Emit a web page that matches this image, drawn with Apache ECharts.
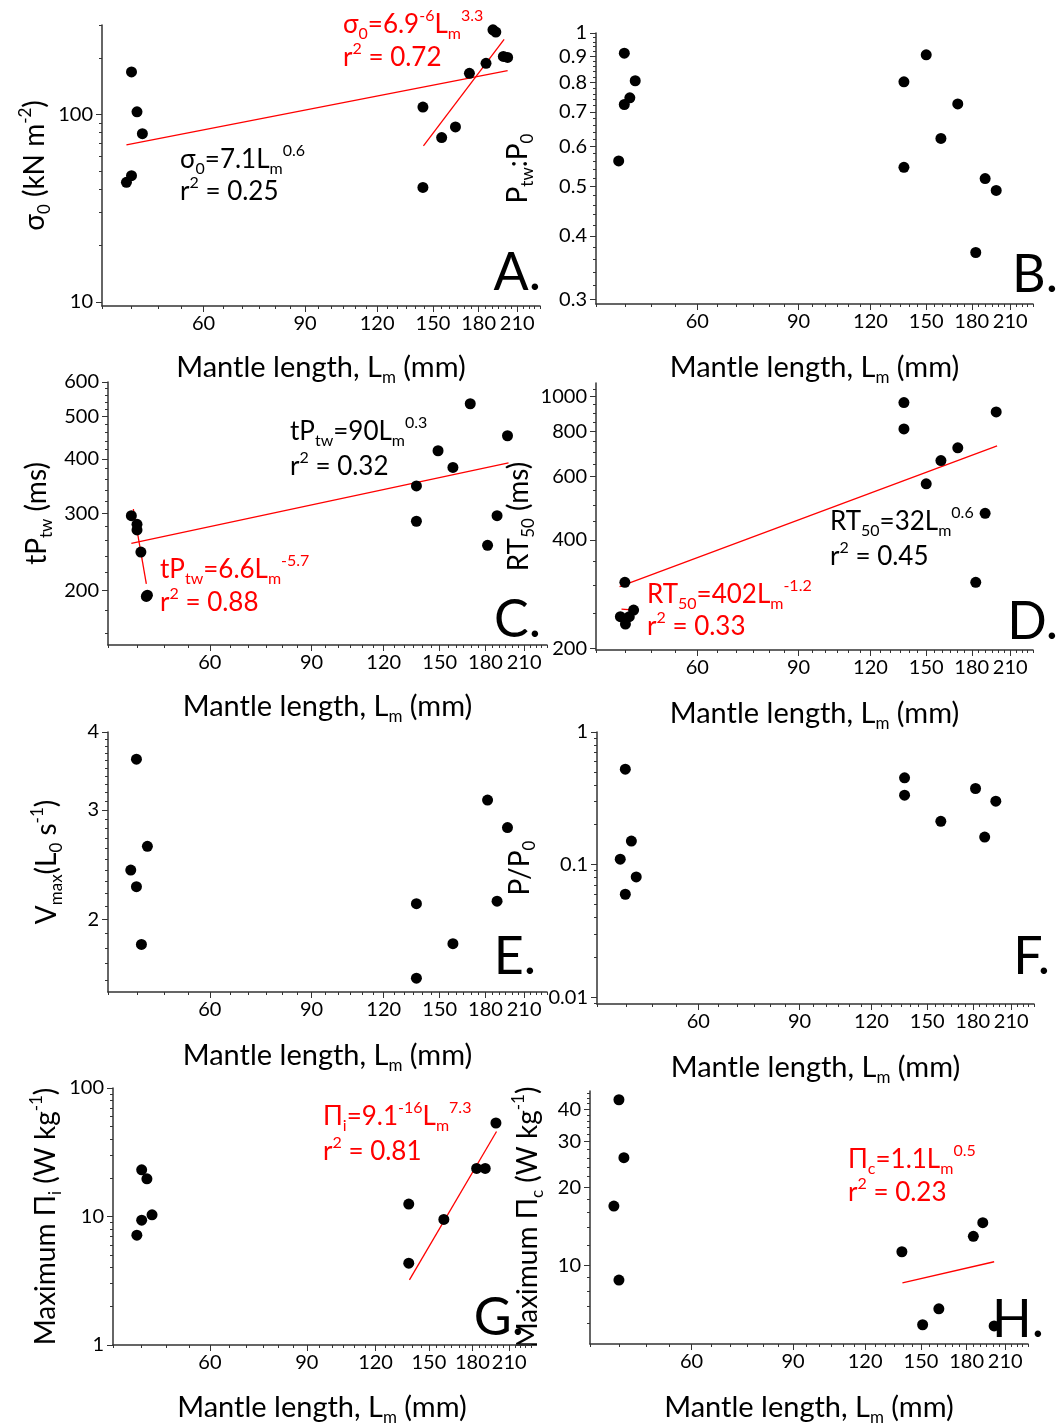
<!DOCTYPE html>
<html>
<head>
<meta charset="utf-8">
<script src="https://cdn.jsdelivr.net/npm/echarts@6/dist/echarts.min.js"></script>
<style>
html, body { margin: 0; background: #fff; }
#chart { width: 1062px; height: 1427px; }
</style>
</head>
<body>
<div id="chart"></div>
<script>
// x axis (mantle length, mm) - log scale
var xMajor = [60, 90, 120, 150, 180, 210]
var xRange = [40, 230]

// A. sigma0 (kN m-2)
var lenA = [44.1, 45.0, 45.0, 46.0, 47.0, 144.1, 144.1, 155.3, 164.1, 173.5, 185.4, 190.6, 192.8, 198.7, 202.1]
var sigmaA = [43.4, 47.1, 168.5, 103.3, 78.9, 109.4, 40.8, 75.2, 85.7, 165.7, 187.4, 282.6, 274.9, 204, 201.5]
var fitA1Len = [44.1, 202.1], fitA1Val = [68.8, 171.3]
var fitA2Len = [144.4, 199.3], fitA2Val = [67.9, 251.2]
var yTicksA = [10, 100]

// B. Ptw:P0
var lenB = [43.8, 44.8, 44.8, 45.8, 46.8, 137.2, 137.2, 150, 159.1, 170.2, 182.9, 189.9, 198.5]
var ratioB = [0.561, 0.913, 0.724, 0.746, 0.806, 0.802, 0.545, 0.906, 0.621, 0.726, 0.371, 0.518, 0.491]
var yTicksB = [0.3, 0.4, 0.5, 0.6, 0.7, 0.8, 0.9, 1]

// C. tPtw (ms)
var lenC = [43.9, 44.9, 44.9, 45.6, 46.6, 46.8, 136.7, 136.7, 149, 158.1, 169.4, 181.5, 188.5, 196.5]
var tptwC = [296.6, 283.4, 275.1, 244.8, 193.8, 195, 347, 288, 417.6, 382.4, 535, 253.7, 296.6, 452]
var fitC1Len = [43.9, 197.3], fitC1Val = [256.2, 391.9]
var fitC2Len = [44.25, 46.6], fitC2Val = [307.2, 207]
var yTicksC = [200, 300, 400, 500, 600]

// D. RT50 (ms)
var lenD = [44.1, 44.9, 45.0, 45.7, 46.5, 137.2, 137.2, 150, 159.1, 170.2, 182.9, 189.9, 198.5]
var rtD = [244.9, 305, 233.7, 244.9, 255.6, 962, 812.8, 572.5, 664, 720.6, 305, 474, 906]
var fitD1Len = [43.96, 199.2], fitD1Val = [296.7, 729]
var fitD2Len = [44.3, 46.8], fitD2Val = [257, 255.4]
var yTicksD = [200, 400, 600, 800, 1000]

// E. Vmax (L0 s-1)
var lenE = [43.8, 44.8, 44.8, 45.7, 46.8, 136.7, 136.7, 158.1, 181.5, 188.5, 196.5]
var vmaxE = [2.401, 3.617, 2.258, 1.824, 2.622, 2.121, 1.61, 1.829, 3.11, 2.14, 2.81]
var yTicksE = [2, 3, 4]

// F. P/P0
var lenF = [43.9, 44.8, 44.8, 45.9, 46.8, 137, 137, 158.4, 182, 188.8, 197.4]
var ppF = [0.110, 0.524, 0.0598, 0.1507, 0.0808, 0.451, 0.334, 0.212, 0.375, 0.1615, 0.301]
var yTicksF = [0.01, 0.1, 1]

// G. maximum Pi_i (W kg-1)
var lenG = [44.2, 45.1, 45.1, 46.1, 47.1, 137.9, 137.9, 159.7, 183.2, 189.9, 198.6]
var piG = [7.15, 23.1, 9.36, 19.66, 10.3, 12.5, 4.33, 9.48, 23.66, 23.66, 53.4]
var fitGLen = [138.3, 199.1], fitGVal = [3.21, 45.9]
var yTicksG = [1, 10, 100]

// H. maximum Pi_c (W kg-1)
var lenH = [44, 44.9, 44.9, 45.8, 139, 151, 161.1, 184.9, 192, 200.9]
var piH = [16.97, 43.5, 8.81, 26.05, 11.32, 5.93, 6.83, 12.97, 14.64, 5.87]
var fitHLen = [139.3, 200.9], fitHVal = [8.6, 10.36]
var yTicksH = [10, 20, 30, 40]

var FONT = 'Lato'
var AX = '#333'

function lg(v) { return Math.log10(v) }
function pts(xs, ys) { return xs.map(function (x, i) { return [lg(x), lg(ys[i])] }) }
function fmt(v) { return String(parseFloat(Math.pow(10, v).toPrecision(3))) }
function range(a, b, step) {
  var out = []
  for (var v = a; v <= b + 1e-9; v += step) out.push(+v.toFixed(4))
  return out
}
function decadeMinor(lo, hi) {
  var out = []
  for (var e = -3; e <= 3; e++) for (var k = 2; k <= 9; k++) {
    var v = k * Math.pow(10, e)
    if (v >= lo && v <= hi) out.push(v)
  }
  return out
}
function minus(list, major) {
  return list.filter(function (v) {
    return !major.some(function (m) { return Math.abs(m - v) < 1e-6 })
  })
}

var xMinor = minus(range(40, 230, 5), xMajor)

function nameStyle(size) {
  return {
    fontSize: size, fontFamily: FONT, color: '#000', lineHeight: 36,
    rich: {
      sub: { fontSize: 17, lineHeight: 14, verticalAlign: 'bottom', fontFamily: FONT, color: '#000' },
      sup: { fontSize: 17, lineHeight: 14, verticalAlign: 'top', fontFamily: FONT, color: '#000' }
    }
  }
}

var grids = [], xAxes = [], yAxes = [], series = [], graphics = []

function addPanel(p) {
  var gi = grids.length
  grids.push({ left: p.box[0], top: p.box[1], width: p.box[2], height: p.box[3] })
  var xi = xAxes.length, yi = yAxes.length
  var lo = lg(p.y[0]), hi = lg(p.y[1])
  var baseX = {
    gridIndex: gi, type: 'value', position: 'bottom', min: lg(xRange[0]), max: lg(xRange[1]),
    splitLine: { show: false }
  }
  var baseY = {
    gridIndex: gi, type: 'value', position: 'left', min: lo, max: hi,
    splitLine: { show: false }
  }
  xAxes.push(Object.assign({}, baseX, {
    name: 'Mantle length, L{sub|m} (mm)', nameLocation: 'middle', nameGap: p.xGap, nameTextStyle: nameStyle(29),
    axisLine: { onZero: false, lineStyle: { color: AX, width: 1.5 } },
    axisTick: { length: 6, customValues: xMajor.map(lg), lineStyle: { color: AX } },
    axisLabel: { customValues: xMajor.map(lg), formatter: fmt, fontSize: 20, fontFamily: FONT, color: '#000', margin: 8 }
  }))
  xAxes.push(Object.assign({}, baseX, {
    axisLine: { show: false, onZero: false },
    axisTick: { length: 3, customValues: xMinor.map(lg), lineStyle: { color: AX } },
    axisLabel: { show: false }
  }))
  var yMinor = p.minor.filter(function (v) { return v >= p.y[0] && v <= p.y[1] })
  yAxes.push(Object.assign({}, baseY, {
    name: p.yName, nameLocation: 'middle', nameGap: p.yGap, nameRotate: 90, nameTextStyle: nameStyle(28),
    axisLine: { onZero: false, lineStyle: { color: AX, width: 1.5 } },
    axisTick: { length: 6, customValues: p.ticks.map(lg), lineStyle: { color: AX } },
    axisLabel: { customValues: p.ticks.map(lg), formatter: fmt, fontSize: 20, fontFamily: FONT, color: '#000', margin: 9 }
  }))
  yAxes.push(Object.assign({}, baseY, {
    axisLine: { show: false, onZero: false },
    axisTick: { length: 3, customValues: minus(yMinor, p.ticks).map(lg), lineStyle: { color: AX } },
    axisLabel: { show: false }
  }))
  series.push({
    type: 'scatter', xAxisIndex: xi, yAxisIndex: yi, data: pts(p.xs, p.ys),
    symbolSize: 11, itemStyle: { color: '#000', opacity: 1 }, z: 3
  })
  ;(p.fits || []).forEach(function (f) {
    series.push({
      type: 'line', xAxisIndex: xi, yAxisIndex: yi, data: pts(f[0], f[1]),
      showSymbol: false, lineStyle: { color: '#ff0000', width: 1.3 }, z: 2
    })
  })
  graphics.push({
    type: 'text', x: p.letter[0], y: p.letter[1],
    style: { text: p.letter[2], fontSize: 52, fontFamily: FONT, fill: '#000', align: 'right', verticalAlign: 'middle' }
  })
}

function note(x, y, text, color) {
  var r = {
    sub: { fontSize: 16, lineHeight: 14, verticalAlign: 'bottom', fontFamily: FONT, fill: color },
    sup: { fontSize: 16, lineHeight: 14, verticalAlign: 'top', fontFamily: FONT, fill: color }
  }
  graphics.push({
    type: 'text', x: x, y: y,
    style: { text: text, fontSize: 26, lineHeight: 34, fontFamily: FONT, fill: color, align: 'left', verticalAlign: 'middle', rich: r }
  })
}

addPanel({ box: [102, 25, 438, 281], y: [9.5, 300], ticks: yTicksA, minor: decadeMinor(9.5, 300),
  xs: lenA, ys: sigmaA, fits: [[fitA1Len, fitA1Val], [fitA2Len, fitA2Val]],
  yName: 'σ{sub|0} (kN m{sup|-2})', yGap: 49, xGap: 44, letter: [541, 273, 'A.'] })
addPanel({ box: [596, 33, 437, 271], y: [0.294, 1], ticks: yTicksB, minor: range(0.3, 1, 0.02),
  xs: lenB, ys: ratioB,
  yName: 'P{sub|tw}:P{sub|0}', yGap: 60, xGap: 46, letter: [1058, 275, 'B.'] })
addPanel({ box: [108, 382, 439, 263], y: [150, 600], ticks: yTicksC, minor: range(160, 600, 20),
  xs: lenC, ys: tptwC, fits: [[fitC1Len, fitC1Val], [fitC2Len, fitC2Val]],
  yName: 'tP{sub|tw} (ms)', yGap: 53, xGap: 44, letter: [541, 620, 'C.'] })
addPanel({ box: [596, 383, 437, 267], y: [198, 1090], ticks: yTicksD, minor: range(200, 1050, 50),
  xs: lenD, ys: rtD, fits: [[fitD1Len, fitD1Val], [fitD2Len, fitD2Val]],
  yName: 'RT{sub|50} (ms)', yGap: 56, xGap: 46, letter: [1058, 622, 'D.'] })
addPanel({ box: [108, 732, 439, 260], y: [1.53, 4], ticks: yTicksE, minor: range(1.6, 4, 0.1),
  xs: lenE, ys: vmaxE,
  yName: 'V{sub|max}(L{sub|0} s{sup|-1})', yGap: 43, xGap: 46, letter: [536, 957, 'E.'] })
addPanel({ box: [597, 732, 437, 272], y: [0.0089, 1], ticks: yTicksF, minor: decadeMinor(0.0089, 1),
  xs: lenF, ys: ppF,
  yName: 'P/P{sub|0}', yGap: 59, xGap: 46, letter: [1050, 957, 'F.'] })
addPanel({ box: [113, 1088, 418, 257], y: [1, 100], ticks: yTicksG, minor: decadeMinor(1, 100),
  xs: lenG, ys: piG, fits: [[fitGLen, fitGVal]],
  yName: 'Maximum Π{sub|i} (W kg{sup|-1})', yGap: 49, xGap: 45, letter: [524, 1318, 'G.'] })
addPanel({ box: [590, 1091, 438, 253], y: [5, 47], ticks: yTicksH,
  minor: [6, 7, 8, 9, 12, 14, 16, 18, 22, 24, 26, 28, 32, 34, 36, 38, 42, 44, 46],
  xs: lenH, ys: piH, fits: [[fitHLen, fitHVal]],
  yName: 'Maximum Π{sub|c} (W kg{sup|-1})', yGap: 44, xGap: 46, letter: [1044, 1320, 'H.'] })

var RED = '#ff0000'
note(343, 25, 'σ{sub|0}=6.9{sup|-6}L{sub|m}{sup|3.3}', RED)
note(343, 58, 'r{sup|2} = 0.72', RED)
note(180, 160, 'σ{sub|0}=7.1L{sub|m}{sup|0.6}', '#000')
note(180, 192, 'r{sup|2} = 0.25', '#000')
note(290, 432, 'tP{sub|tw}=90L{sub|m}{sup|0.3}', '#000')
note(290, 467, 'r{sup|2} = 0.32', '#000')
note(160, 570, 'tP{sub|tw}=6.6L{sub|m}{sup|-5.7}', RED)
note(160, 603, 'r{sup|2} = 0.88', RED)
note(830, 522, 'RT{sub|50}=32L{sub|m}{sup|0.6}', '#000')
note(830, 557, 'r{sup|2} = 0.45', '#000')
note(647, 595, 'RT{sub|50}=402L{sub|m}{sup|-1.2}', RED)
note(647, 627, 'r{sup|2} = 0.33', RED)
note(323, 1117, 'Π{sub|i}=9.1{sup|-16}L{sub|m}{sup|7.3}', RED)
note(323, 1152, 'r{sup|2} = 0.81', RED)
note(848, 1160, 'Π{sub|c}=1.1L{sub|m}{sup|0.5}', RED)
note(848, 1193, 'r{sup|2} = 0.23', RED)

var chart = echarts.init(document.getElementById('chart'))
chart.setOption({
  animation: false,
  backgroundColor: '#fff',
  grid: grids,
  xAxis: xAxes,
  yAxis: yAxes,
  series: series,
  graphic: graphics
})
</script>
</body>
</html>
